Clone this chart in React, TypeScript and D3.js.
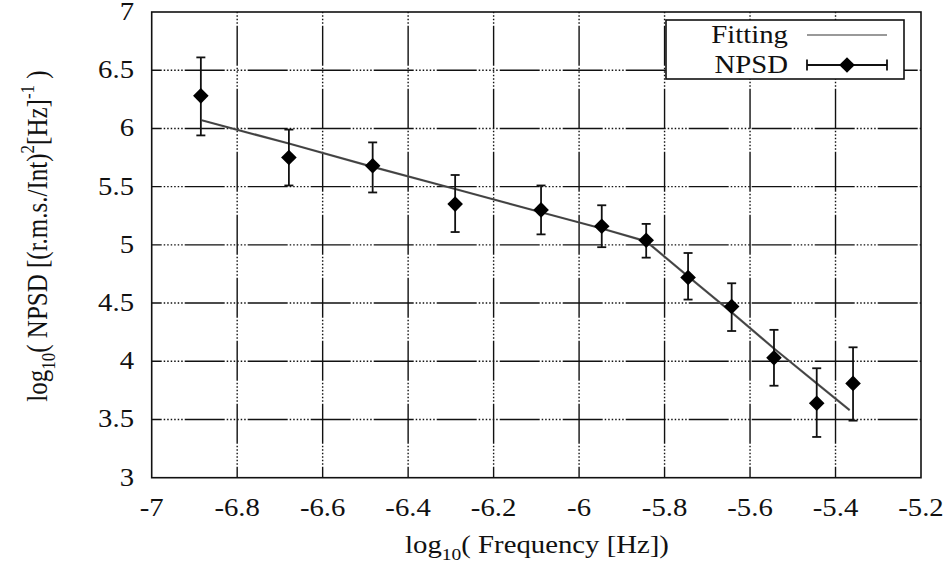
import React from 'react';
import * as d3 from 'd3';

// ---- data ----
const xTicks = [-7, -6.8, -6.6, -6.4, -6.2, -6, -5.8, -5.6, -5.4, -5.2];
const xTickLabels = ['-7', '-6.8', '-6.6', '-6.4', '-6.2', '-6', '-5.8', '-5.6', '-5.4', '-5.2'];
const yTicks = [3, 3.5, 4, 4.5, 5, 5.5, 6, 6.5, 7];
const yTickLabels = ['3', '3.5', '4', '4.5', '5', '5.5', '6', '6.5', '7'];

const freqX = [-6.885, -6.679, -6.483, -6.29, -6.089, -5.947, -5.843, -5.745, -5.643, -5.544, -5.444, -5.359];
const npsd = [6.28, 5.75, 5.68, 5.35, 5.30, 5.16, 5.04, 4.72, 4.47, 4.03, 3.64, 3.81];
const errLow = [5.94, 5.51, 5.45, 5.11, 5.09, 4.98, 4.89, 4.53, 4.26, 3.79, 3.35, 3.49];
const errHigh = [6.61, 5.99, 5.88, 5.60, 5.51, 5.34, 5.18, 4.93, 4.67, 4.27, 3.94, 4.12];

const fitX = [-6.883, -6.679, -6.483, -6.29, -6.089, -5.947, -5.843, -5.745, -5.643, -5.544, -5.444, -5.367];
const fitY = [6.07, 5.87, 5.67, 5.48, 5.28, 5.14, 5.03, 4.73, 4.42, 4.11, 3.81, 3.58];

const FONT = '"Liberation Serif", "Times New Roman", serif';
const FS = 25;
const SX = 1.15;

export default function App() {
  const W = 950, H = 566;
  const left = 151.7, right = 921, top = 12, bottom = 477.7;
  const x = d3.scaleLinear().domain([-7, -5.2]).range([left, right]);
  const y = d3.scaleLinear().domain([3, 7]).range([bottom, top]);

  const fitLine = d3.line<number>().x((_, i) => x(fitX[i])).y((d) => y(d))(fitY) || '';

  const gridDash = '40,2,1.5,2,1.5,2,1.5,2,1.5,2,1.5,2,1.5,2';
  const diamond = (cx: number, cy: number, r = 7.8) =>
    `M${cx},${cy - r}L${cx + r},${cy}L${cx},${cy + r}L${cx - r},${cy}Z`;
  const cap = 4.5;

  const T = (props: { x: number; y: number; anchor?: string; children: React.ReactNode; size?: number }) => (
    <text
      transform={`translate(${props.x},${props.y}) scale(${SX},1)`}
      textAnchor={props.anchor || 'middle'}
      fontFamily={FONT}
      fontSize={props.size || FS}
      fill="#111"
    >
      {props.children}
    </text>
  );

  const legX1 = 807, legX2 = 887, legFitY = 35, legNpsdY = 65;

  return (
    <svg width={W} height={H} style={{ position: 'absolute', left: 0, top: 0, background: '#fff' }}>
      <rect x={0} y={0} width={W} height={H} fill="#fff" />
      {/* grid */}
      <g stroke="#111" strokeWidth={1.4} fill="none">
        {xTicks.slice(1, -1).map((t) => (
          <line key={'gx' + t} x1={x(t)} x2={x(t)} y1={bottom} y2={top} strokeDasharray={gridDash} strokeDashoffset={29} />
        ))}
        {yTicks.slice(1, -1).map((t) => (
          <line key={'gy' + t} x1={left} x2={right} y1={y(t)} y2={y(t)} strokeDasharray={gridDash} strokeDashoffset={30} />
        ))}
      </g>
      {/* frame */}
      <rect x={left} y={top} width={right - left} height={bottom - top} fill="none" stroke="#111" strokeWidth={1.6} />

      {/* legend box */}
      <rect x={666} y={20} width={238} height={59} fill="#fff" stroke="#111" strokeWidth={1.6} />
      <T x={788} y={legFitY + 8} anchor="end">Fitting</T>
      <T x={788} y={legNpsdY + 8} anchor="end">NPSD</T>
      <line x1={legX1} x2={legX2} y1={legFitY} y2={legFitY} stroke="#999" strokeWidth={2} />
      <g stroke="#111" strokeWidth={1.8}>
        <line x1={legX1} x2={legX2} y1={legNpsdY} y2={legNpsdY} />
        <line x1={legX1} x2={legX1} y1={legNpsdY - cap - 1} y2={legNpsdY + cap + 1} />
        <line x1={legX2} x2={legX2} y1={legNpsdY - cap - 1} y2={legNpsdY + cap + 1} />
      </g>
      <path d={diamond(847, legNpsdY)} fill="#000" />

      {/* fit line */}
      <path d={fitLine} fill="none" stroke="#555" strokeWidth={2.2} />
      <path d={fitLine} fill="none" stroke="#222" strokeWidth={0.8} opacity={0.6} />

      {/* error bars and points */}
      <g stroke="#111" strokeWidth={1.8}>
        {freqX.map((fx, i) => (
          <g key={'e' + i}>
            <line x1={x(fx)} x2={x(fx)} y1={y(errLow[i])} y2={y(errHigh[i])} />
            <line x1={x(fx) - cap} x2={x(fx) + cap} y1={y(errLow[i])} y2={y(errLow[i])} />
            <line x1={x(fx) - cap} x2={x(fx) + cap} y1={y(errHigh[i])} y2={y(errHigh[i])} />
          </g>
        ))}
      </g>
      {freqX.map((fx, i) => (
        <path key={'p' + i} d={diamond(x(fx), y(npsd[i]))} fill="#000" />
      ))}

      {/* tick labels */}
      {yTicks.map((t, i) => (
        <T key={'yl' + t} x={134} y={y(t) + 8} anchor="end">{yTickLabels[i]}</T>
      ))}
      {xTicks.map((t, i) => (
        <T key={'xl' + t} x={x(t)} y={516}>{xTickLabels[i]}</T>
      ))}

      {/* axis labels */}
      <T x={537} y={553}>
        log<tspan fontSize={17} dy={7}>10</tspan><tspan dy={-7}>( Frequency [Hz])</tspan>
      </T>
      <text
        transform={`translate(47,236) scale(${SX},1) rotate(-90)`}
        textAnchor="middle"
        fontFamily={FONT}
        fontSize={FS}
        fill="#111"
      >
        log<tspan fontSize={17} dy={7}>10</tspan>
        <tspan dy={-7}>( NPSD [(r.m.s./Int)</tspan>
        <tspan fontSize={17} dy={-11}>2</tspan>
        <tspan dy={11}>[Hz]</tspan>
        <tspan fontSize={17} dy={-11}>-1</tspan>
        <tspan dy={11}> )</tspan>
      </text>
    </svg>
  );
}
